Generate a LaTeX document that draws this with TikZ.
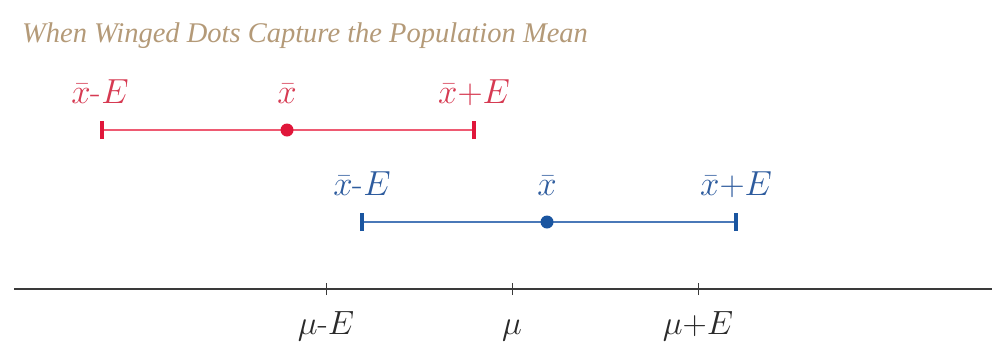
\documentclass[tikz,border=0pt]{standalone}
\usepackage{fontspec}
\newfontfamily\titlefont{Liberation Serif}
\newcommand{\biglab}[2]{\scalebox{#1}{\fontsize{24.88}{30}\selectfont #2}}
\begin{document}
\begin{tikzpicture}[x=1pt,y=-1pt,
  lab/.style={inner sep=0pt, anchor=base},
  redc/.style={text=redtxt},
  bluec/.style={text=bluetxt},
  axlab/.style={inner sep=0pt, anchor=base, text=axtxt},
  reddot/.style={circle, fill=redmain, inner sep=0pt, minimum size=13pt},
  bluedot/.style={circle, fill=bluemain, inner sep=0pt, minimum size=13pt},
  redbar/.style={draw=redmain, line width=4.5pt},
  bluebar/.style={draw=bluemain, line width=3.5pt},
  redline/.style={draw=redline, line width=2.2pt},
  blueline/.style={draw=blueline, line width=1.6pt},
  axis/.style={draw=axcol, line width=1.4pt},
  tick/.style={draw=axcol, line width=1pt}
]
\definecolor{redmain}{HTML}{E0163A}
\definecolor{redline}{HTML}{EE5A72}
\definecolor{redtxt}{HTML}{D63A52}
\definecolor{bluemain}{HTML}{1A55A0}
\definecolor{blueline}{HTML}{4A78B8}
\definecolor{bluetxt}{HTML}{2E5C9E}
\definecolor{axcol}{HTML}{3A3A3A}
\definecolor{axtxt}{HTML}{2A2A2A}
\definecolor{titlecol}{HTML}{B49A78}
\useasboundingbox (0,0) rectangle (992,341);

% title
\node[inner sep=0pt, anchor=base west, text=titlecol, font=\titlefont\itshape\fontsize{28.5}{32}\selectfont] (title) at (22,42) {When Winged Dots Capture the Population Mean};

% red interval
\coordinate (rl) at (102,130);
\coordinate (rr) at (474,130);
\draw[redline] (rl) -- (rr);
\draw[redbar] ([yshift=-9pt]rl) -- ([yshift=9pt]rl);
\draw[redbar] ([yshift=-9pt]rr) -- ([yshift=9pt]rr);
\node[reddot] (rd) at (287,130) {};
\node[lab, redc] (rll) at (100,103) {\biglab{1.4}{$\bar{x}\mbox{-}E$}};
\node[lab, redc] (rdl) at (287,103) {\biglab{1.4}{$\bar{x}$}};
\node[lab, redc] (rrl) at (474,103) {\biglab{1.4}{$\bar{x}{+}E$}};

% blue interval
\coordinate (bl) at (362,222);
\coordinate (br) at (736,222);
\draw[blueline] (bl) -- (br);
\draw[bluebar] ([yshift=-9pt]bl) -- ([yshift=9pt]bl);
\draw[bluebar] ([yshift=-9pt]br) -- ([yshift=9pt]br);
\node[bluedot] (bd) at (547,222) {};
\node[lab, bluec] (bll) at (362,195) {\biglab{1.4}{$\bar{x}\mbox{-}E$}};
\node[lab, bluec] (bdl) at (547,195) {\biglab{1.4}{$\bar{x}$}};
\node[lab, bluec] (brl) at (736,195) {\biglab{1.4}{$\bar{x}{+}E$}};

% axis
\coordinate (a0) at (14,289);
\coordinate (a1) at (992,289);
\draw[axis] (a0) -- (a1);
\coordinate (t1) at (326,289);
\coordinate (t2) at (512,289);
\coordinate (t3) at (698,289);
\foreach \t in {t1,t2,t3} \draw[tick] ([yshift=-6pt]\t) -- ([yshift=6pt]\t);
\node[axlab] (l1) at (326,334) {\biglab{1.35}{$\mu\mbox{-}E$}};
\node[axlab] (l2) at (512,334) {\biglab{1.35}{$\mu$}};
\node[axlab] (l3) at (698,334) {\biglab{1.35}{$\mu{+}E$}};
\end{tikzpicture}
\end{document}
